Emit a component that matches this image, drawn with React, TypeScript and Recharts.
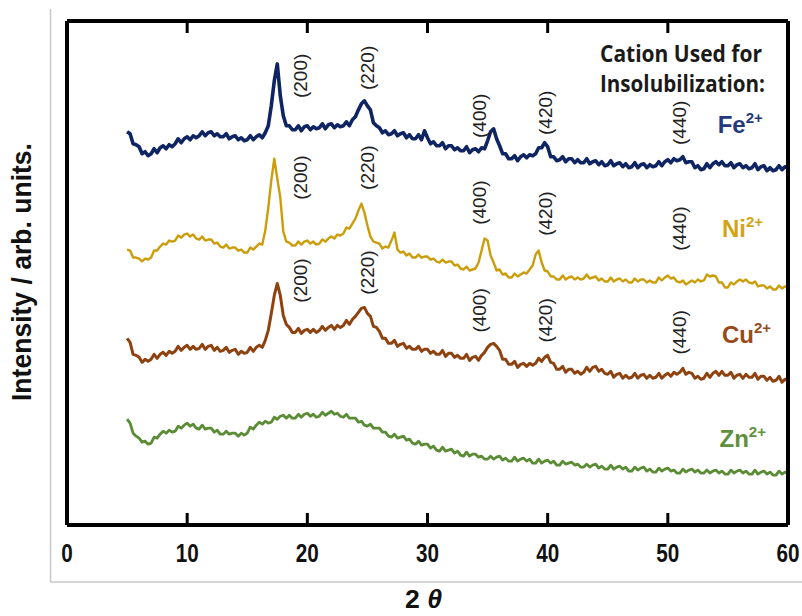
import React from 'react';
import { LineChart, Line, XAxis, YAxis, ReferenceDot } from 'recharts';

// 2θ sampling grid: 5° .. 60° every 0.25°
const TWO_THETA = Array.from({ length: 221 }, (_, i) => 5 + i * 0.25);

// intensities (arb. units, offset stacked), one row per degree
const FE = [
  394, 392, 382, 381, 379, 372, 374, 370, 372, 377, 373, 378, 380, 377, 381, 379,
  382, 387, 383, 387, 389, 386, 390, 388, 390, 394, 390, 393, 394, 390, 392, 389,
  389, 392, 387, 389, 390, 386, 388, 385, 386, 390, 386, 389, 391, 388, 393, 400,
  420, 445, 462, 430, 410, 400, 400, 396, 396, 400, 395, 399, 400, 396, 399, 397,
  398, 402, 397, 401, 402, 398, 401, 399, 400, 404, 400, 406, 409, 416, 422, 425,
  420, 416, 403, 400, 398, 393, 395, 391, 392, 395, 390, 392, 393, 388, 391, 387,
  387, 391, 386, 395, 388, 382, 384, 380, 380, 383, 377, 380, 380, 376, 378, 375,
  375, 379, 373, 376, 377, 374, 378, 377, 385, 394, 397, 387, 380, 372, 372, 367,
  367, 370, 365, 369, 371, 368, 371, 370, 372, 378, 378, 383, 379, 369, 369, 365,
  366, 369, 364, 367, 367, 363, 366, 363, 363, 367, 362, 364, 365, 361, 364, 360,
  361, 365, 360, 362, 363, 359, 362, 358, 359, 363, 358, 361, 362, 358, 361, 359,
  360, 364, 360, 364, 366, 363, 367, 365, 366, 369, 363, 364, 364, 358, 360, 356,
  357, 362, 358, 362, 364, 361, 364, 360, 360, 363, 358, 361, 362, 358, 360, 357,
  358, 362, 356, 359, 360, 355, 358, 355, 356, 360, 356, 359, 358,
];

const NI = [
  276, 275, 268, 268, 267, 264, 267, 266, 268, 275, 275, 279, 282, 281, 285, 284,
  285, 290, 288, 291, 292, 289, 291, 287, 286, 289, 285, 286, 286, 282, 283, 279,
  278, 281, 277, 278, 278, 275, 276, 273, 273, 278, 276, 279, 282, 281, 295, 318,
  345, 367, 347, 328, 294, 284, 283, 280, 280, 284, 281, 284, 285, 282, 284, 281,
  282, 286, 284, 287, 289, 287, 291, 290, 292, 298, 297, 302, 307, 315, 322, 313,
  300, 289, 284, 283, 282, 277, 279, 278, 285, 293, 276, 273, 274, 270, 272, 268,
  268, 271, 268, 269, 269, 266, 267, 264, 263, 266, 263, 264, 264, 260, 261, 257,
  256, 259, 255, 256, 257, 263, 275, 287, 285, 270, 263, 255, 256, 251, 252, 248,
  248, 252, 249, 251, 253, 252, 256, 260, 271, 275, 263, 255, 254, 249, 249, 246,
  246, 250, 246, 248, 249, 246, 248, 246, 247, 251, 247, 248, 249, 245, 247, 244,
  244, 248, 244, 246, 247, 244, 246, 243, 243, 247, 244, 246, 246, 243, 245, 243,
  243, 248, 245, 248, 250, 247, 248, 244, 243, 245, 241, 243, 245, 243, 246, 244,
  245, 251, 249, 250, 249, 243, 243, 238, 238, 243, 241, 244, 246, 244, 246, 243,
  242, 244, 239, 240, 240, 237, 239, 236, 236, 240, 237, 239, 238,
];

const CU = [
  187, 183, 171, 170, 168, 163, 166, 164, 166, 171, 167, 171, 173, 170, 174, 172,
  174, 179, 175, 178, 180, 176, 179, 176, 177, 181, 176, 179, 180, 175, 178, 174,
  175, 178, 173, 175, 176, 171, 174, 172, 173, 178, 174, 178, 180, 178, 185, 195,
  212, 230, 242, 230, 210, 201, 198, 193, 193, 197, 192, 195, 196, 193, 196, 193,
  195, 199, 195, 198, 200, 196, 200, 198, 200, 205, 201, 206, 209, 213, 217, 218,
  212, 209, 199, 198, 194, 187, 187, 182, 182, 185, 179, 181, 182, 177, 179, 176,
  176, 179, 174, 176, 176, 172, 174, 171, 171, 175, 169, 172, 172, 168, 170, 167,
  167, 171, 165, 168, 169, 165, 170, 173, 178, 181, 182, 179, 175, 166, 166, 161,
  161, 164, 158, 161, 162, 159, 162, 160, 162, 167, 164, 168, 170, 163, 162, 156,
  156, 159, 153, 156, 156, 152, 154, 151, 153, 158, 154, 158, 159, 154, 156, 152,
  151, 154, 148, 151, 152, 147, 150, 147, 148, 152, 147, 150, 151, 147, 150, 147,
  148, 152, 147, 150, 152, 149, 153, 151, 153, 157, 151, 153, 152, 147, 149, 146,
  147, 152, 148, 152, 154, 150, 154, 150, 150, 153, 147, 150, 151, 147, 151, 148,
  148, 152, 146, 149, 149, 145, 148, 144, 145, 149, 143, 146, 145,
];

const ZN = [
  106, 102, 92, 89, 87, 83, 84, 81, 82, 88, 87, 91, 94, 92, 95, 93,
  94, 99, 97, 100, 102, 99, 101, 97, 96, 100, 96, 97, 97, 93, 95, 91,
  91, 94, 91, 92, 92, 89, 92, 90, 92, 98, 96, 100, 103, 101, 104, 102,
  103, 108, 106, 109, 110, 107, 110, 107, 107, 111, 108, 111, 112, 109, 111, 108,
  109, 113, 110, 112, 114, 111, 112, 109, 108, 111, 107, 107, 107, 103, 104, 100,
  99, 101, 97, 97, 97, 93, 93, 89, 88, 91, 87, 88, 89, 85, 86, 82,
  81, 84, 80, 81, 81, 77, 79, 75, 74, 78, 74, 75, 76, 72, 74, 70,
  69, 73, 69, 71, 71, 68, 69, 66, 66, 69, 66, 68, 69, 65, 67, 64,
  64, 68, 64, 66, 67, 64, 66, 62, 62, 66, 62, 64, 65, 62, 64, 60,
  60, 64, 61, 62, 63, 60, 61, 58, 58, 61, 58, 60, 61, 57, 59, 56,
  56, 60, 56, 58, 59, 56, 58, 54, 54, 58, 55, 57, 58, 54, 56, 53,
  53, 57, 54, 56, 57, 54, 55, 52, 52, 56, 53, 55, 56, 53, 55, 52,
  52, 55, 52, 54, 55, 52, 54, 51, 51, 55, 52, 54, 55, 52, 54, 51,
  51, 55, 51, 53, 54, 51, 53, 50, 50, 54, 51, 53, 52,
];

const X_TICKS = [0, 10, 20, 30, 40, 50, 60];
const INNER_TICKS = [10, 20, 30, 40, 50];
const X_MAX = 60;
const Y_MAX = 505;

// plot box
const PLOT = { left: 67, top: 21, width: 721, height: 504 };

const SERIES = [
  { key: 'fe', name: 'Fe', color: '#0f2563', text: '#24397a', width: 3.6 },
  { key: 'ni', name: 'Ni', color: '#cc9d0a', text: '#d2a414', width: 2.4 },
  { key: 'cu', name: 'Cu', color: '#8e420f', text: '#9a4a18', width: 3 },
  { key: 'zn', name: 'Zn', color: '#5a8c35', text: '#5e9040', width: 2.8 },
];

// reflection labels (centre position, 2θ / intensity)
const PEAK_LABELS = [
  { hkl: '(200)', x: 19.4, y: 450 }, { hkl: '(220)', x: 25.0, y: 458 },
  { hkl: '(400)', x: 34.3, y: 410 }, { hkl: '(420)', x: 39.8, y: 413 },
  { hkl: '(440)', x: 51.0, y: 403 },
  { hkl: '(200)', x: 19.4, y: 348 }, { hkl: '(220)', x: 25.0, y: 358 },
  { hkl: '(400)', x: 34.3, y: 323 }, { hkl: '(420)', x: 39.8, y: 312 },
  { hkl: '(440)', x: 51.0, y: 297 },
  { hkl: '(200)', x: 19.4, y: 245 }, { hkl: '(220)', x: 25.0, y: 253 },
  { hkl: '(400)', x: 34.3, y: 215 }, { hkl: '(420)', x: 39.8, y: 205 },
  { hkl: '(440)', x: 51.0, y: 193 },
];

// series name labels (text start, baseline)
const NAME_POS = [
  { x: 54.15, y: 393 },
  { x: 54.5, y: 289 },
  { x: 54.5, y: 182 },
  { x: 54.3, y: 78 },
];

const rows = TWO_THETA.map((t, i) => ({ t, fe: FE[i], ni: NI[i], cu: CU[i], zn: ZN[i] }));

const ARIAL = "'Liberation Sans', Arial, sans-serif";
const frame = { stroke: '#000', strokeWidth: 4 };

// condensed bold tick numbers
const XTick = (props: any) => {
  const { x, y, payload } = props;
  const s = String(payload.value);
  return (
    <text x={x} y={y + 19} textAnchor="middle" fontSize={25} fontWeight="bold" fontFamily={ARIAL}
      fill="#111" textLength={s.length * 11.5} lengthAdjust="spacingAndGlyphs">
      {s}
    </text>
  );
};

const tickX = (v: number) => PLOT.left + (v / X_MAX) * PLOT.width;

export default function App() {
  return (
    <div style={{ position: 'absolute', left: 0, top: 0, width: 802, height: 616, background: '#fff' }}>
      <svg width={802} height={616} style={{ position: 'absolute', left: 0, top: 0 }}>
        <line x1={50.5} y1={9} x2={50.5} y2={582} stroke="#c8c8c8" strokeWidth={1.5} />
        <line x1={50} y1={582} x2={802} y2={582} stroke="#c8c8c8" strokeWidth={1.5} />
        <text x={600} y={62} fontSize={23} fontWeight="bold" fontFamily="'Open Sans', sans-serif" fill="#1a1a1a"
          textLength={162} lengthAdjust="spacingAndGlyphs">Cation Used for</text>
        <text x={600} y={92} fontSize={23} fontWeight="bold" fontFamily="'Open Sans', sans-serif" fill="#1a1a1a"
          textLength={165} lengthAdjust="spacingAndGlyphs">Insolubilization:</text>
        <text x={22} y={272} transform="rotate(-90 22 272)" textAnchor="middle" dominantBaseline="central"
          fontSize={27} fontWeight="bold" fontFamily={ARIAL} fill="#111"
          textLength={258} lengthAdjust="spacingAndGlyphs">Intensity / arb. units.</text>
        <text x={405} y={608} fontSize={25} fontWeight="bold" fontFamily={ARIAL} fill="#111"
          textLength={37} lengthAdjust="spacingAndGlyphs">
          2 <tspan fontStyle="italic">θ</tspan>
        </text>
      </svg>
      <div style={{ position: 'absolute', left: 0, top: 0 }}>
        <LineChart width={802} height={616} data={rows} margin={{ top: 20, right: 13, bottom: 61, left: 66 }}>
          <XAxis
            xAxisId="b" dataKey="t" type="number" domain={[0, X_MAX]} ticks={X_TICKS} interval={0}
            height={30} tickSize={0} tickMargin={18} tickLine={false}
            axisLine={frame} tick={<XTick />}
          />
          <XAxis
            xAxisId="t" orientation="top" dataKey="t" type="number" domain={[0, X_MAX]} ticks={INNER_TICKS}
            interval={0} height={1} tick={false} tickLine={false} axisLine={frame}
          />
          <YAxis yAxisId="l" type="number" domain={[0, Y_MAX]} width={1} tick={false} tickLine={false} axisLine={frame} />
          <YAxis yAxisId="r" orientation="right" type="number" domain={[0, Y_MAX]} width={1} tick={false} tickLine={false} axisLine={frame} />

          {SERIES.map((s) => (
            <Line
              key={s.key} xAxisId="b" yAxisId="l" dataKey={s.key} type="linear"
              stroke={s.color} strokeWidth={s.width} dot={false} isAnimationActive={false}
              strokeLinejoin="round"
            />
          ))}

          {PEAK_LABELS.map((p, i) => (
            <ReferenceDot
              key={'pk' + i} xAxisId="b" yAxisId="l" x={p.x} y={p.y} r={0}
              shape={(d: any) => (
                <text
                  x={d.cx} y={d.cy} transform={`rotate(-90 ${d.cx} ${d.cy})`}
                  textAnchor="middle" dominantBaseline="central"
                  fontSize={19} fontFamily={ARIAL} fill="#222"
                >
                  {p.hkl}
                </text>
              )}
            />
          ))}

          {SERIES.map((s, i) => (
            <ReferenceDot
              key={'nm' + s.key} xAxisId="b" yAxisId="l" x={NAME_POS[i].x} y={NAME_POS[i].y} r={0}
              shape={(d: any) => (
                <text x={d.cx} y={d.cy} fontSize={24} fontWeight="bold" fontFamily={ARIAL} fill={s.text}>
                  {s.name}
                  <tspan fontSize={15} dy={-10}>2+</tspan>
                </text>
              )}
            />
          ))}
        </LineChart>
      </div>
      {/* inward tick marks on the top and bottom frame */}
      <svg width={802} height={616} style={{ position: 'absolute', left: 0, top: 0, pointerEvents: 'none' }}>
        {INNER_TICKS.map((v) => (
          <g key={v}>
            <line x1={tickX(v)} x2={tickX(v)} y1={PLOT.top} y2={PLOT.top + 12} stroke="#000" strokeWidth={3} />
            <line x1={tickX(v)} x2={tickX(v)} y1={PLOT.top + PLOT.height - 12} y2={PLOT.top + PLOT.height}
              stroke="#000" strokeWidth={3} />
          </g>
        ))}
      </svg>
    </div>
  );
}
